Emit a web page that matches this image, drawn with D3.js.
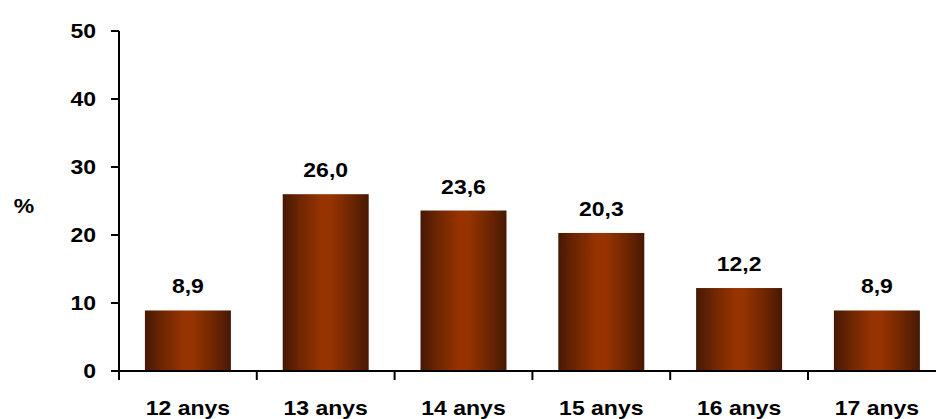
<!DOCTYPE html>
<html>
<head>
<meta charset="utf-8">
<script src="https://cdn.jsdelivr.net/npm/d3@7"></script>
<style>
  html, body { margin: 0; padding: 0; background: #fff; }
  svg { display: block; font-family: Arial, "Liberation Sans", sans-serif; font-weight: bold; }
</style>
</head>
<body>
<svg id="chart" width="936" height="419"></svg>
<script>
// Age groups and percentage per group
const categories = ["12 anys", "13 anys", "14 anys", "15 anys", "16 anys", "17 anys"];
const values = [8.9, 26.0, 23.6, 20.3, 12.2, 8.9];
const yTicks = [0, 10, 20, 30, 40, 50];
const yLabel = "%";

const svg = d3.select("#chart");
const stretch = 1.15; // horizontally widened lettering

const left = 119, step = 137.8;
const x = d3.scaleBand()
  .domain(categories)
  .range([left, left + step * categories.length])
  .paddingInner(0.376)
  .paddingOuter(0.188);
const y = d3.scaleLinear().domain([0, 50]).range([371, 31]);

// horizontal gradient for the bars
const grad = svg.append("defs").append("linearGradient")
  .attr("id", "barGrad").attr("x1", "0%").attr("x2", "100%").attr("y1", "0%").attr("y2", "0%");
[[0, "#461804"], [0.2, "#6e2602"], [0.45, "#973300"], [0.55, "#973300"], [0.8, "#6e2602"], [1, "#461804"]]
  .forEach(([o, c]) => grad.append("stop").attr("offset", o).attr("stop-color", c));

// bars
svg.append("g").selectAll("rect").data(values).join("rect")
  .attr("x", (d, i) => x(categories[i]))
  .attr("width", x.bandwidth())
  .attr("y", d => y(d))
  .attr("height", d => y(0) - y(d))
  .attr("fill", "url(#barGrad)");

function txt(g, tx, ty, s, anchor) {
  g.append("text")
    .attr("transform", `translate(${tx},${ty}) scale(${stretch},1)`)
    .attr("text-anchor", anchor)
    .attr("font-size", 20)
    .attr("fill", "#000")
    .text(s);
}

// value labels
const vl = svg.append("g");
values.forEach((v, i) => {
  txt(vl, x(categories[i]) + x.bandwidth() / 2, y(v) - 17, d3.format(".1f")(v).replace(".", ","), "middle");
});

// y axis
const ya = svg.append("g");
ya.append("line").attr("x1", left).attr("x2", left).attr("y1", y(50)).attr("y2", y(0))
  .attr("stroke", "#000").attr("stroke-width", 2);
yTicks.forEach(t => {
  ya.append("line").attr("x1", left - 8).attr("x2", left).attr("y1", y(t)).attr("y2", y(t))
    .attr("stroke", "#000").attr("stroke-width", 2);
  txt(ya, 96, y(t) + 7, String(t), "end");
});
txt(ya, 24, 213, yLabel, "middle");

// x axis
const xa = svg.append("g");
xa.append("line").attr("x1", left - 1).attr("x2", 936).attr("y1", y(0)).attr("y2", y(0))
  .attr("stroke", "#000").attr("stroke-width", 2);
categories.forEach((c, i) => {
  const bx = x(c) - x.step() * 0.188;
  xa.append("line").attr("x1", bx).attr("x2", bx).attr("y1", y(0)).attr("y2", y(0) + 9)
    .attr("stroke", "#000").attr("stroke-width", 2);
  txt(xa, x(c) + x.bandwidth() / 2, 415, c, "middle");
});
</script>
</body>
</html>
